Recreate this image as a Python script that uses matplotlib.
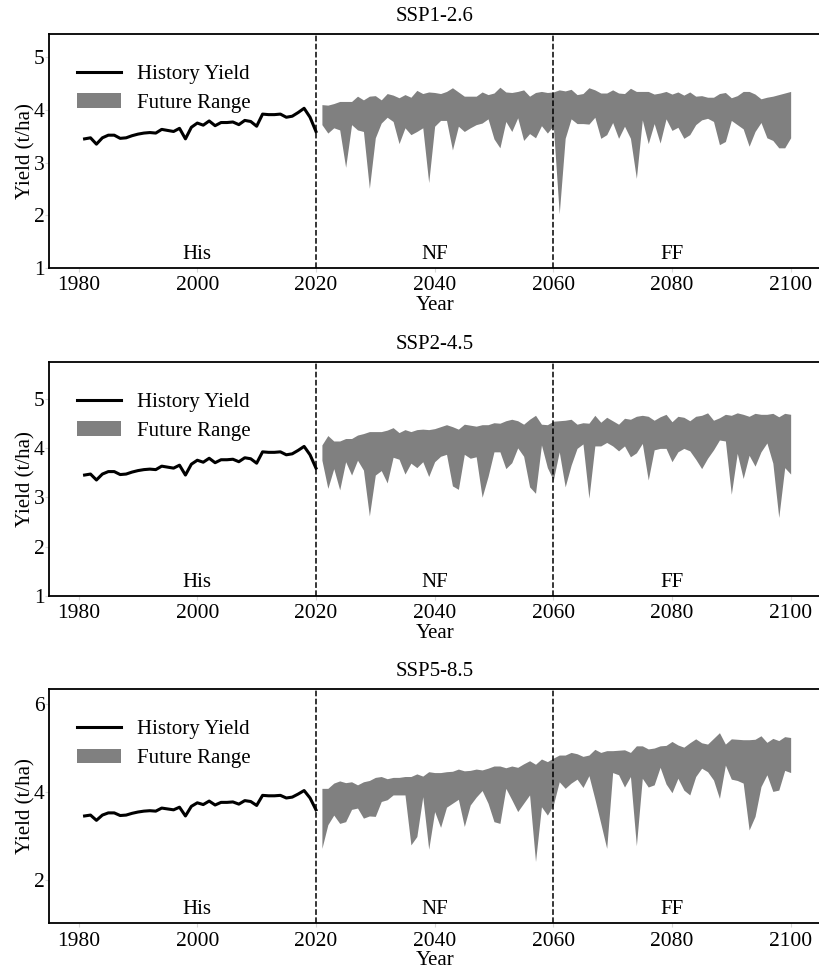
import numpy as np
import matplotlib
matplotlib.use("Agg")
import matplotlib.pyplot as plt
import matplotlib.transforms as mtransforms

plt.rcParams['font.family'] = ['Liberation Serif', 'DejaVu Serif']

# historical yield 1981-2020
hist_years = np.arange(1981, 2021)
hist_yield = [3.45, 3.47, 3.35, 3.47, 3.52, 3.52, 3.46, 3.47, 3.51, 3.54,
              3.56, 3.57, 3.56, 3.63, 3.61, 3.59, 3.65, 3.45, 3.67, 3.75,
              3.71, 3.79, 3.70, 3.76, 3.76, 3.77, 3.72, 3.80, 3.78, 3.69,
              3.92, 3.91, 3.91, 3.92, 3.86, 3.88, 3.95, 4.03, 3.86, 3.59]

# future range 2021-2100
fut_years = np.arange(2021, 2101)

ssp126_upper = [4.10, 4.09, 4.12, 4.16, 4.16, 4.16, 4.26, 4.19, 4.26, 4.27,
                4.19, 4.31, 4.28, 4.23, 4.29, 4.24, 4.37, 4.31, 4.34, 4.33,
                4.31, 4.35, 4.42, 4.34, 4.26, 4.26, 4.26, 4.34, 4.29, 4.32,
                4.43, 4.34, 4.33, 4.35, 4.38, 4.26, 4.33, 4.35, 4.33, 4.34,
                4.38, 4.36, 4.39, 4.29, 4.31, 4.42, 4.38, 4.32, 4.32, 4.38,
                4.32, 4.31, 4.41, 4.35, 4.35, 4.35, 4.30, 4.32, 4.35, 4.30,
                4.34, 4.28, 4.34, 4.26, 4.27, 4.24, 4.24, 4.31, 4.33, 4.23,
                4.27, 4.35, 4.35, 4.30, 4.21, 4.24, 4.26, 4.29, 4.32, 4.35]
ssp126_lower = [3.72, 3.56, 3.66, 3.62, 2.91, 3.72, 3.62, 3.59, 2.51, 3.47,
                3.75, 3.86, 3.78, 3.36, 3.66, 3.53, 3.59, 3.66, 2.62, 3.69,
                3.80, 3.80, 3.24, 3.69, 3.59, 3.66, 3.72, 3.75, 3.83, 3.45,
                3.28, 3.78, 3.59, 3.85, 3.42, 3.55, 3.47, 3.70, 3.56, 3.70,
                2.03, 3.46, 3.83, 3.74, 3.74, 3.73, 3.86, 3.46, 3.53, 3.76,
                3.46, 3.69, 3.46, 2.70, 3.81, 3.36, 3.74, 3.37, 3.83, 3.61,
                3.67, 3.46, 3.53, 3.72, 3.81, 3.84, 3.78, 3.34, 3.40, 3.80,
                3.72, 3.64, 3.31, 3.59, 3.76, 3.47, 3.42, 3.28, 3.28, 3.47]

ssp245_upper = [4.06, 4.25, 4.14, 4.14, 4.19, 4.19, 4.26, 4.29, 4.33, 4.33,
                4.33, 4.36, 4.41, 4.31, 4.37, 4.33, 4.37, 4.38, 4.37, 4.39,
                4.43, 4.47, 4.43, 4.38, 4.48, 4.46, 4.44, 4.47, 4.47, 4.51,
                4.50, 4.55, 4.58, 4.55, 4.48, 4.58, 4.66, 4.48, 4.47, 4.54,
                4.55, 4.56, 4.58, 4.48, 4.51, 4.50, 4.66, 4.52, 4.62, 4.55,
                4.48, 4.60, 4.58, 4.64, 4.66, 4.64, 4.56, 4.63, 4.68, 4.53,
                4.64, 4.62, 4.55, 4.64, 4.66, 4.71, 4.56, 4.61, 4.68, 4.66,
                4.71, 4.68, 4.64, 4.70, 4.68, 4.68, 4.70, 4.63, 4.70, 4.68]
ssp245_lower = [3.75, 3.18, 3.58, 3.15, 3.72, 3.45, 3.75, 3.55, 2.62, 3.45,
                3.54, 3.29, 3.81, 3.77, 3.47, 3.69, 3.60, 3.72, 3.42, 3.72,
                3.83, 3.87, 3.23, 3.16, 3.87, 3.79, 3.82, 3.00, 3.42, 3.92,
                3.92, 3.58, 3.70, 4.00, 3.83, 3.21, 3.08, 4.06, 3.60, 3.35,
                3.92, 3.21, 3.65, 3.99, 4.08, 2.98, 4.04, 4.04, 4.11, 4.04,
                3.94, 4.04, 3.82, 3.90, 4.09, 3.35, 3.96, 3.99, 3.99, 3.72,
                3.92, 3.99, 3.94, 3.77, 3.58, 3.79, 3.96, 4.16, 4.14, 3.06,
                3.89, 3.38, 3.85, 3.63, 3.92, 4.10, 3.69, 2.59, 3.60, 3.47]

ssp585_upper = [4.08, 4.08, 4.20, 4.25, 4.21, 4.23, 4.16, 4.23, 4.26, 4.33,
                4.35, 4.30, 4.33, 4.33, 4.35, 4.35, 4.41, 4.36, 4.46, 4.44,
                4.44, 4.46, 4.47, 4.52, 4.48, 4.49, 4.52, 4.50, 4.54, 4.59,
                4.59, 4.55, 4.59, 4.56, 4.64, 4.71, 4.63, 4.75, 4.69, 4.77,
                4.84, 4.84, 4.90, 4.87, 4.81, 4.84, 4.97, 4.90, 4.94, 4.94,
                4.95, 4.96, 4.90, 5.05, 5.05, 4.98, 5.00, 5.05, 5.06, 5.15,
                5.07, 5.02, 5.12, 5.21, 5.12, 5.09, 5.22, 5.35, 5.09, 5.21,
                5.20, 5.19, 5.19, 5.20, 5.28, 5.13, 5.22, 5.17, 5.26, 5.24]
ssp585_lower = [2.71, 3.25, 3.47, 3.28, 3.32, 3.60, 3.63, 3.40, 3.45, 3.44,
                3.78, 3.82, 3.93, 3.93, 3.93, 2.79, 2.98, 3.89, 2.69, 3.55,
                3.19, 3.65, 3.74, 3.83, 3.21, 3.70, 3.88, 4.03, 3.74, 3.32,
                3.28, 4.08, 3.82, 3.55, 3.74, 3.93, 2.41, 3.66, 3.47, 3.70,
                4.23, 4.08, 4.20, 4.29, 4.10, 4.37, 3.84, 3.28, 2.71, 4.44,
                4.39, 4.11, 4.35, 2.77, 4.31, 4.11, 4.16, 4.56, 4.18, 3.98,
                4.31, 4.04, 3.93, 4.35, 4.54, 4.46, 4.27, 3.85, 4.61, 4.29,
                4.26, 4.20, 3.13, 3.44, 4.12, 4.39, 4.01, 4.04, 4.49, 4.44]

scenarios = ['SSP1-2.6', 'SSP2-4.5', 'SSP5-8.5']
uppers = [ssp126_upper, ssp245_upper, ssp585_upper]
lowers = [ssp126_lower, ssp245_lower, ssp585_lower]
ylims = [(1, 5.44), (1, 5.74), (1, 6.34)]
yticks = [[1, 2, 3, 4, 5], [1, 2, 3, 4, 5], [2, 4, 6]]
periods = [('His', 2000), ('NF', 2040), ('FF', 2080)]

fig = plt.figure(figsize=(8.19, 9.71), dpi=100)
bottoms = [0.7240, 0.3862, 0.0491]

for i in range(3):
    ax = fig.add_axes([0.0598, bottoms[i], 0.9418, 0.241])
    ax.plot(hist_years, hist_yield, color='black', lw=2.2, label='History Yield')
    ax.fill_between(fut_years, lowers[i], uppers[i], color='gray', lw=0,
                    label='Future Range')
    ax.axvline(2020, color='black', ls='--', lw=1.1)
    ax.axvline(2060, color='black', ls='--', lw=1.1)

    trans = mtransforms.blended_transform_factory(ax.transData, ax.transAxes)
    for name, xpos in periods:
        ax.text(xpos, 0.018, name, transform=trans, ha='center', va='bottom', fontsize=15)

    ax.set_xlim(1975, 2105)
    ax.set_ylim(*ylims[i])
    ax.set_xticks([1980, 2000, 2020, 2040, 2060, 2080, 2100])
    ax.set_yticks(yticks[i])
    ax.tick_params(labelsize=15.5, length=3, color='#d8d8d8')
    ax.tick_params(axis='x', pad=3)
    ax.tick_params(axis='y', pad=0)
    ax.set_title(scenarios[i], fontsize=15, pad=9.5)
    ax.set_xlabel('Year', fontsize=15, labelpad=0.5)
    ax.set_ylabel('Yield (t/ha)', fontsize=15, labelpad=-1)
    for s in ax.spines.values():
        s.set_linewidth(1.3)
    ax.spines['right'].set_visible(False)

    ax.legend(loc='upper left', bbox_to_anchor=(0.012, 0.95), frameon=False,
              fontsize=15, handlelength=2.1, labelspacing=0.45, handletextpad=0.8)

plt.savefig('out.png', dpi=100)
